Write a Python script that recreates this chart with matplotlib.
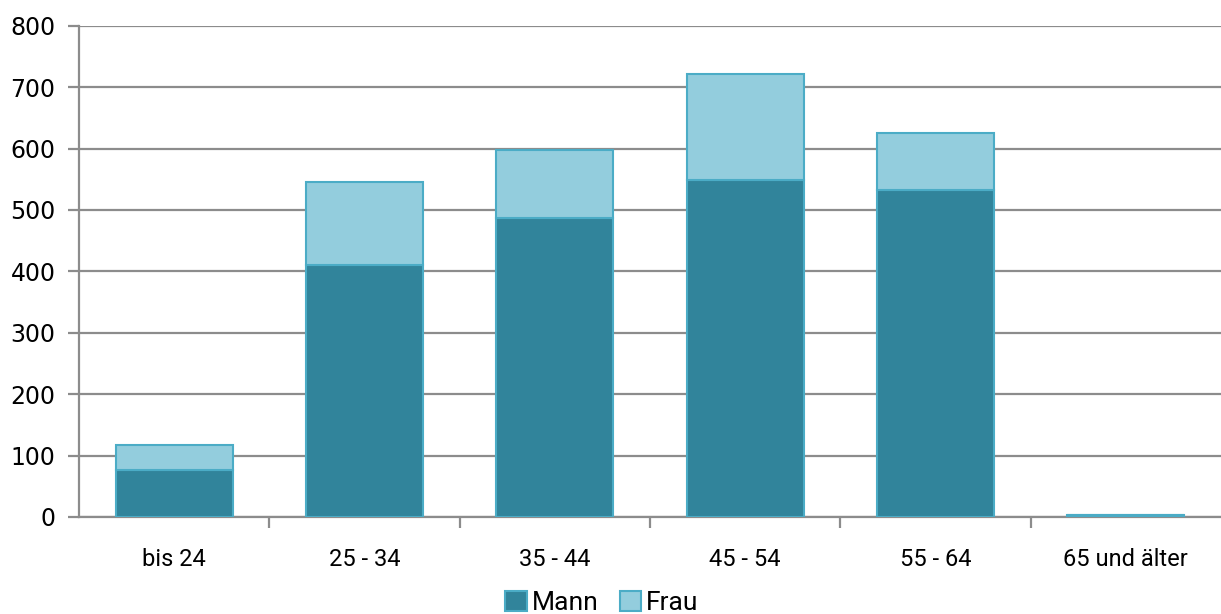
import matplotlib
matplotlib.use('Agg')
import matplotlib.pyplot as plt
import numpy as np

# age groups and counts
categories = ['bis 24', '25 - 34', '35 - 44', '45 - 54', '55 - 64', '65 und älter']
mann = [77, 410, 487, 549, 532, 3]
frau = [41, 135, 110, 172, 94, 1]

c_mann = '#31849B'
c_frau = '#93CDDD'
c_edge = '#4BACC6'
c_grid = '#8C8C8C'

fig = plt.figure(figsize=(12.21, 6.14), dpi=100)
ax = fig.add_axes([0.0647, 0.158, 0.9353, 0.800])

x = np.arange(len(categories))
ax.bar(x, mann, width=0.615, color=c_mann, edgecolor=c_edge, linewidth=1.5, label='Mann', zorder=3)
ax.bar(x, frau, width=0.615, bottom=mann, color=c_frau, edgecolor=c_edge, linewidth=1.5, label='Frau', zorder=3)

ax.set_xlim(-0.5, len(categories) - 0.5)
ax.set_ylim(0, 800)
ax.set_yticks(range(0, 801, 100))
ax.yaxis.grid(True, color=c_grid, linewidth=1.6, zorder=0)

for s in ['top', 'right']:
    ax.spines[s].set_visible(False)
ax.spines['left'].set_color(c_grid)
ax.spines['left'].set_linewidth(1.6)
ax.spines['bottom'].set_color(c_grid)
ax.spines['bottom'].set_linewidth(1.6)

# category labels without ticks, ticks at the boundaries
ax.set_xticks(x)
ax.set_xticklabels(categories, fontsize=17, family='Roboto')
ax.tick_params(axis='x', which='major', length=0, pad=22)
ax.set_xticks(np.arange(0.5, len(categories) - 0.5), minor=True)
ax.tick_params(axis='x', which='minor', length=8, width=1.6, color=c_grid, direction='out')
ax.tick_params(axis='y', length=8, width=1.6, color=c_grid, labelsize=17, pad=9)

fig.legend(loc='lower center', bbox_to_anchor=(0.493, -0.04), ncol=2, frameon=False,
           prop={'family': 'Roboto', 'size': 19}, handlelength=0.8, handleheight=0.8,
           handletextpad=0.2, columnspacing=0.8)

fig.savefig('out.png', dpi=100)
